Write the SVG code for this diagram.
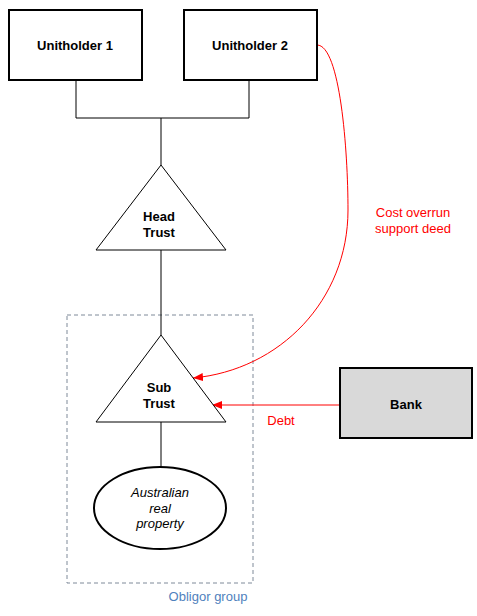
<svg xmlns="http://www.w3.org/2000/svg" width="477" height="616" viewBox="0 0 477 616">
<style>
text{font-family:"Liberation Sans",Arial,sans-serif;font-size:13px;text-anchor:middle}
.b{font-weight:bold;fill:#000}
.r{fill:#ff0000}
.box{fill:#fff;stroke:#000;stroke-width:2}
.tri{fill:#fff;stroke:#000;stroke-width:1}
.ln{fill:none;stroke:#000;stroke-width:1}
.red{fill:none;stroke:#ff0000;stroke-width:1}
</style>
<defs>
<marker id="ah" markerWidth="10" markerHeight="8" refX="10" refY="4" orient="auto" markerUnits="userSpaceOnUse">
<path d="M0,0 L10,4 L0,8 Z" fill="#ff0000"/>
</marker>
</defs>
<g id="obligor-group">
<rect x="67" y="315" width="186" height="268" fill="none" stroke="#7f8a99" stroke-width="1" stroke-dasharray="4,3"/>
<text x="208" y="601" fill="#4f81bd" font-size="13.5">Obligor group</text>
</g>
<g id="connectors">
<path class="ln" d="M76,80 V118 H249 V80 M161,118 V165 M161,250 V335 M161,422 V467"/>
<path class="red" d="M317,45 C340,45 348,150 348,210 C348,300 280,370 193,378" marker-end="url(#ah)"/>
<path class="red" d="M339,405 H212" marker-end="url(#ah)"/>
<text class="r" x="413" y="217">Cost overrun</text>
<text class="r" x="413" y="233">support deed</text>
<text class="r" x="281" y="425">Debt</text>
</g>
<g id="unitholder1">
<rect class="box" x="9" y="10" width="133" height="70"/>
<text class="b" x="75" y="50">Unitholder 1</text>
</g>
<g id="unitholder2">
<rect class="box" x="184" y="10" width="133" height="70"/>
<text class="b" x="250" y="50">Unitholder 2</text>
</g>
<g id="head-trust">
<polygon class="tri" points="161,165 226,250 96,250"/>
<text class="b" x="159" y="221">Head</text>
<text class="b" x="159" y="237">Trust</text>
</g>
<g id="sub-trust">
<polygon class="tri" points="161,335 226,422 96,422"/>
<text class="b" x="159" y="392">Sub</text>
<text class="b" x="159" y="408">Trust</text>
</g>
<g id="property">
<ellipse cx="160" cy="508" rx="66" ry="41" fill="#fff" stroke="#000" stroke-width="2"/>
<text x="160" y="497" font-style="italic">Australian</text>
<text x="160" y="513" font-style="italic">real</text>
<text x="160" y="528" font-style="italic">property</text>
</g>
<g id="bank">
<rect x="340" y="368" width="132" height="70" fill="#d9d9d9" stroke="#000" stroke-width="2"/>
<text class="b" x="406" y="409">Bank</text>
</g>
</svg>
